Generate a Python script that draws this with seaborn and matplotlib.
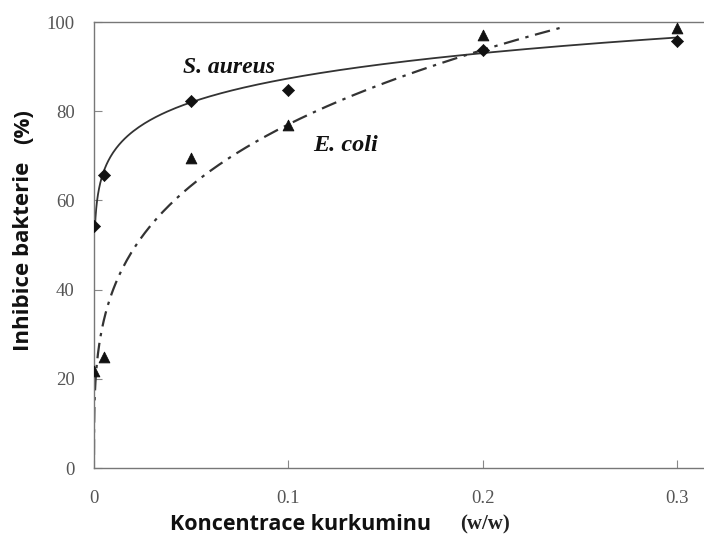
import numpy as np
import pandas as pd
import matplotlib
matplotlib.use("Agg")
import matplotlib.pyplot as plt
import seaborn as sns

# Curcumin concentration (w/w) and bacterial inhibition (%)
conc = [0.0, 0.005, 0.05, 0.1, 0.2, 0.3]
s_aureus = [54.3, 65.7, 82.3, 84.8, 93.7, 95.7]
e_coli = [21.7, 24.9, 69.5, 76.9, 97.1, 98.7]

# Power-law trend lines  y = a * x**b
s_aureus_fit = (107.7, 0.091)
e_coli_fit = (147.8, 0.283)
s_aureus_fit_range = (0.0005, 0.3)
e_coli_fit_range = (1e-6, 0.24)

x_ticks = [0, 0.1, 0.2, 0.3]
x_tick_labels = ["0", "0.1", "0.2", "0.3"]
y_ticks = [0, 20, 40, 60, 80, 100]

sns.set_theme(style="white")
plt.rcParams["font.family"] = ["DejaVu Sans"]

fig = plt.figure(figsize=(7.04, 5.41), dpi=100)
ax = fig.add_axes([0.1335, 0.1349, 0.8665, 0.8244])

def trend(fit, rng):
    a, b = fit
    xs = np.concatenate([np.geomspace(rng[0], 0.01, 200), np.linspace(0.01, rng[1], 200)])
    return pd.DataFrame({"x": xs, "y": a * xs ** b})

sa = trend(s_aureus_fit, s_aureus_fit_range)
ec = trend(e_coli_fit, e_coli_fit_range)
sns.lineplot(data=sa, x="x", y="y", ax=ax, color="#333333", lw=1.3, sort=False)
sns.lineplot(data=ec, x="x", y="y", ax=ax, color="#333333", lw=1.6, sort=False,
             linestyle=(0, (7, 3, 1.5, 3)))

df = pd.DataFrame({"conc": conc, "sa": s_aureus, "ec": e_coli})
sns.scatterplot(data=df, x="conc", y="sa", ax=ax, marker="D", s=38,
                color="#111111", edgecolor="#111111", zorder=5)
sns.scatterplot(data=df, x="conc", y="ec", ax=ax, marker="^", s=60,
                color="#111111", edgecolor="#111111", zorder=5)

ax.set_xlim(0, 0.314)
ax.set_ylim(0, 100)
ax.set_xticks(x_ticks)
ax.set_xticklabels(x_tick_labels)
ax.set_yticks(y_ticks)
ax.tick_params(bottom=True, left=True, direction="in", length=6, width=0.8,
               color="#888888", labelcolor="#555555", labelsize=13.5)
ax.tick_params(axis="y", pad=14)
ax.tick_params(axis="x", pad=16)
for lab in ax.get_xticklabels() + ax.get_yticklabels():
    lab.set_family("Liberation Serif")

for side in ["left", "bottom", "top"]:
    ax.spines[side].set_color("#777777")
    ax.spines[side].set_linewidth(1.0)
ax.spines["right"].set_visible(False)

ax.set_xlabel("")
ax.set_ylabel("")

# species labels
ax.text(0.046, 89.8, "S. aureus", family="Liberation Serif", style="italic",
        weight="bold", fontsize=17, color="#111111", ha="left", va="center")
ax.text(0.113, 72.4, "E. coli", family="Liberation Serif", style="italic",
        weight="bold", fontsize=17.5, color="#111111", ha="left", va="center")

# axis titles
fig.text(170 / 704, 1 - 524 / 541, "Koncentrace kurkuminu", family="Open Sans",
         weight="bold", fontsize=15.5, color="#111111", ha="left", va="center")
fig.text(460 / 704, 1 - 524 / 541, "(w/w)", family="Liberation Serif",
         weight="bold", fontsize=15, color="#222222", ha="left", va="center")
fig.text(24 / 704, 1 - 256 / 541, "Inhibice bakterie", family="Open Sans",
         weight="bold", fontsize=16, color="#111111", rotation=90,
         ha="center", va="center")
fig.text(24 / 704, 1 - 127 / 541, "(%)", family="Open Sans",
         weight="bold", fontsize=16, color="#111111", rotation=90,
         ha="center", va="center")

fig.savefig("out.png", dpi=100)
